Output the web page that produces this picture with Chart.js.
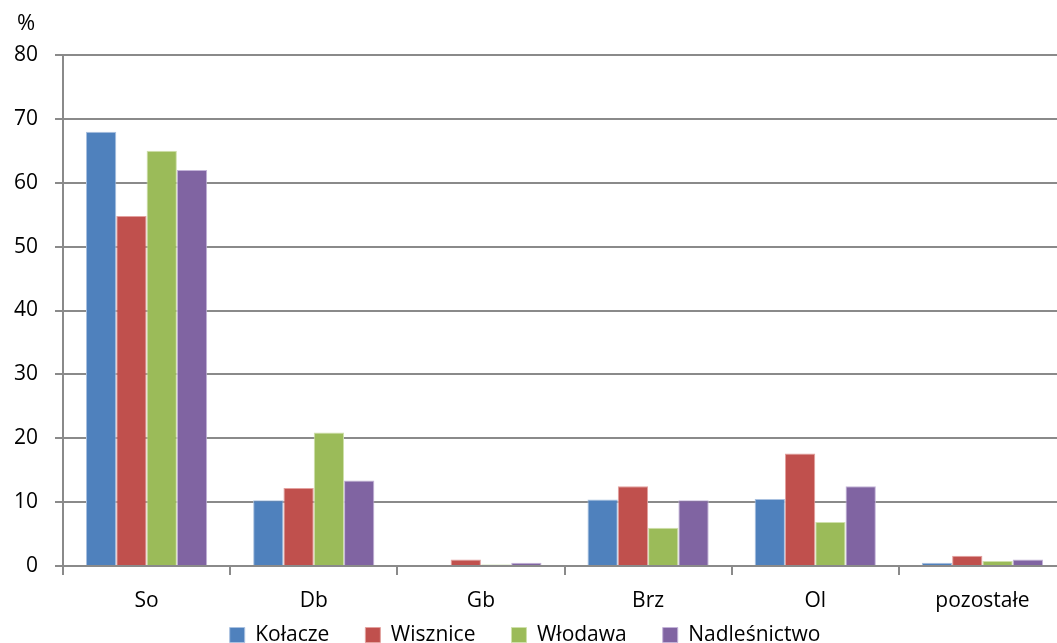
<!DOCTYPE html>
<html>
  <head>
    <meta charset="utf-8" />
    <title>Udział gatunków</title>
    <script src="https://cdn.jsdelivr.net/npm/chart.js"></script>
    <style>
      html, body { margin: 0; padding: 0; background: #fff; overflow: hidden; }
      #wrap { width: 1066px; height: 643px; }
    </style>
  </head>
  <body>
    <div id="wrap"><canvas id="myChart"></canvas></div>
    <script>
      // dane
      const gatunki = ["So", "Db", "Gb", "Brz", "Ol", "pozostałe"];
      const kolacze = [68.0, 10.3, 0.15, 10.4, 10.5, 0.5];
      const wisznice = [54.8, 12.2, 1.0, 12.5, 17.6, 1.6];
      const wlodawa = [65.0, 20.9, 0.25, 6.0, 6.9, 0.8];
      const nadlesnictwo = [62.0, 13.4, 0.5, 10.3, 12.5, 1.0];
      const yTicks = [0, 10, 20, 30, 40, 50, 60, 70, 80];

      const FONT = "'Open Sans', Lato, sans-serif";
      const gridColor = "#8a8a8a";
      const legendPad = 36;

      // znak % nad osią Y
      const procent = {
        id: "procent",
        afterDraw(chart) {
          const c = chart.ctx;
          c.save();
          c.font = "22px " + FONT;
          c.fillStyle = "#000";
          c.textAlign = "left";
          c.textBaseline = "middle";
          c.fillText("%", 17, 24);
          c.restore();
        },
      };

      // legenda: szerokie odstępy poziome, ale niska wysokość
      const legendaFix = {
        id: "legendaFix",
        beforeLayout(chart) {
          const lg = chart.legend;
          if (!lg || lg._fixed) return;
          const fit = lg.fit.bind(lg);
          lg.fit = function () {
            fit();
            this.height = 31;
          };
          lg._fixed = true;
        },
        afterLayout(chart) {
          const lg = chart.legend;
          lg.top = 635 - legendPad - 10.5;
          lg.bottom = chart.height;
          lg.left -= 8;
          lg.right -= 8;
        },
      };

      function zestaw(label, data, kolor, ramka) {
        return {
          label: label,
          data: data,
          backgroundColor: kolor,
          borderColor: ramka,
          borderWidth: 1,
          barPercentage: 1,
          categoryPercentage: 0.725,
        };
      }

      const ctx = document.getElementById("myChart").getContext("2d");
      const myChart = new Chart(ctx, {
        type: "bar",
        data: {
          labels: gatunki,
          datasets: [
            zestaw("Kołacze", kolacze, "#4F81BD", "#a9c1e0"),
            zestaw("Wisznice", wisznice, "#C0504D", "#e3a09e"),
            zestaw("Włodawa", wlodawa, "#9BBB59", "#cfe0ab"),
            zestaw("Nadleśnictwo", nadlesnictwo, "#8064A2", "#c3b3d8"),
          ],
        },
        options: {
          responsive: true,
          maintainAspectRatio: false,
          animation: false,
          layout: { padding: { top: 55, left: 0, right: 0, bottom: 0 } },
          plugins: {
            legend: {
              position: "bottom",
              labels: {
                boxWidth: 15,
                boxHeight: 15,
                padding: legendPad,
                color: "#000",
                font: { family: FONT, size: 21, lineHeight: 1 },
              },
            },
            title: { display: false },
            tooltip: { enabled: false },
          },
          scales: {
            x: {
              afterFit(scale) {
                scale.height = 46;
              },
              grid: {
                offset: true,
                drawOnChartArea: false,
                color: gridColor,
                lineWidth: 2,
                tickLength: 9,
              },
              border: { color: gridColor, width: 2 },
              ticks: {
                color: "#000",
                font: { family: FONT, size: 21, lineHeight: 1 },
                padding: 16,
              },
            },
            y: {
              min: 0,
              max: 80,
              afterBuildTicks(scale) {
                scale.ticks = yTicks.map((v) => ({ value: v }));
              },
              afterFit(scale) {
                scale.width = 63;
              },
              grid: {
                color: gridColor,
                lineWidth: 2,
                tickLength: 8,
              },
              border: { color: gridColor, width: 2 },
              ticks: {
                color: "#000",
                font: { family: FONT, size: 21 },
                padding: 17,
              },
            },
          },
        },
        plugins: [procent, legendaFix],
      });
    </script>
  </body>
</html>
